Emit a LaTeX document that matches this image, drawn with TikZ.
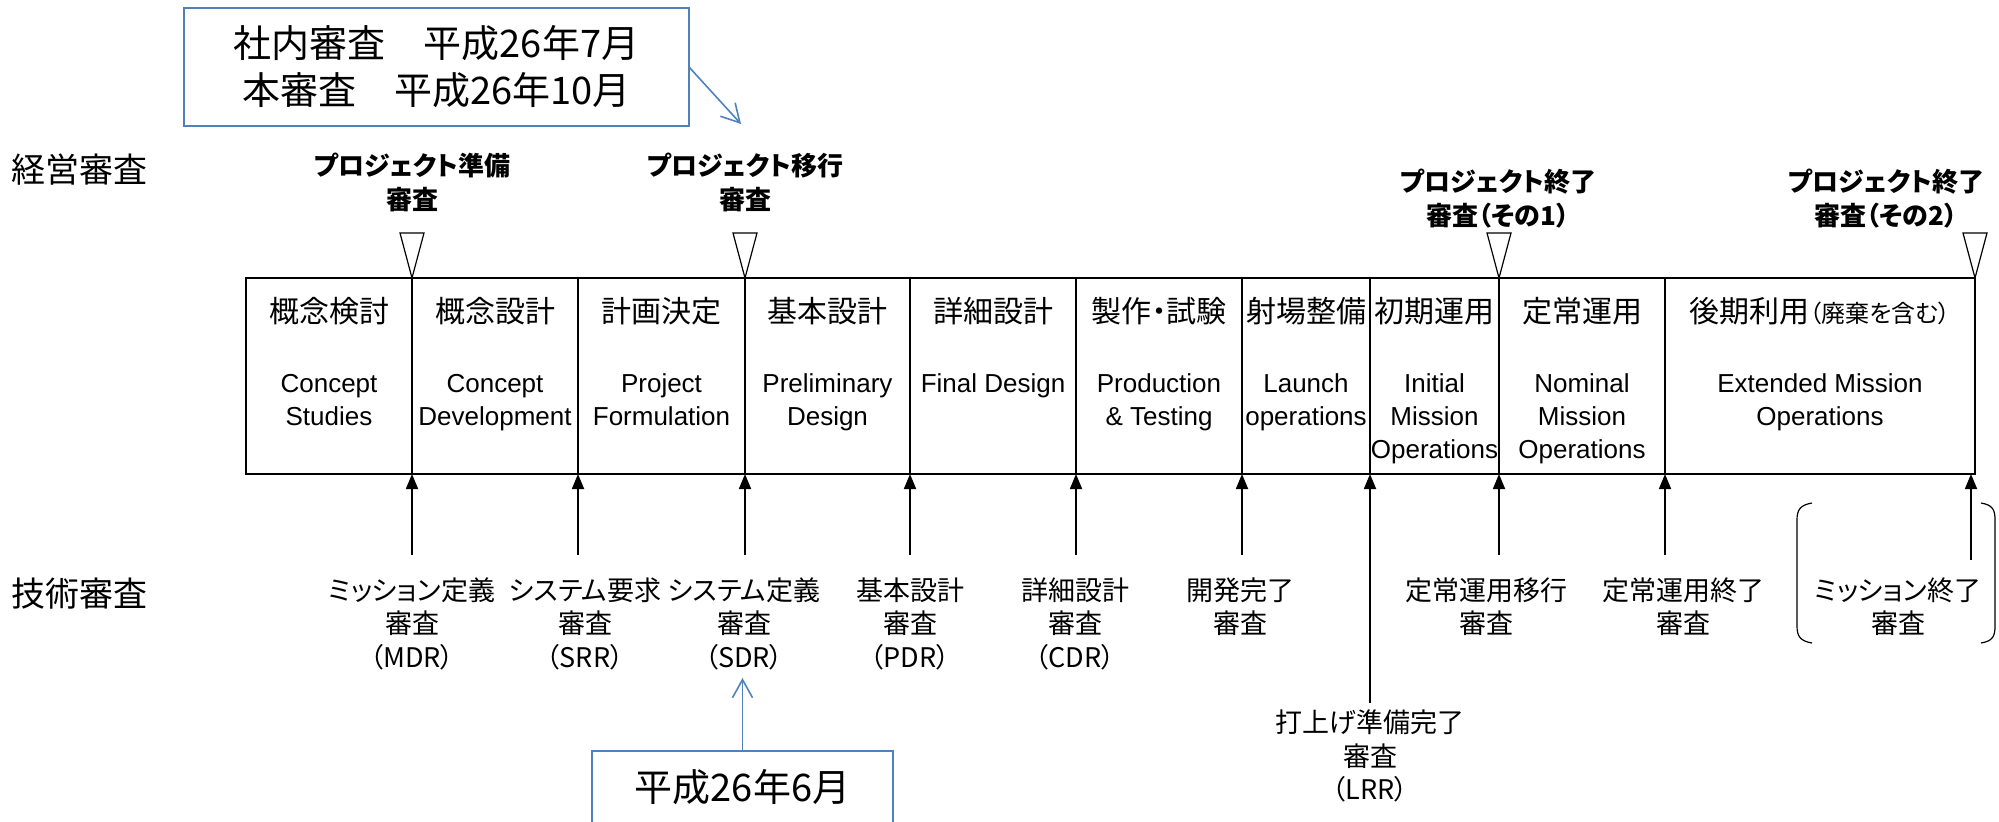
\documentclass[tikz,border=0pt]{standalone}
\usepackage{fontspec}
\setmainfont{Liberation Sans}
\newfontfamily\jp[RawFeature=+palt]{Noto Sans CJK JP}
\usetikzlibrary{arrows.meta}
\definecolor{ofblue}{RGB}{79,129,189}
\begin{document}
\begin{tikzpicture}[x=0.5pt,y=-0.5pt,
  every node/.style={inner sep=0pt, outer sep=0pt},
  phasejp/.style={font=\jp\fontsize{15}{18}\selectfont},
  phaseen/.style={font=\fontsize{13}{16.5}\selectfont, align=center, anchor=north},
  mgmt/.style={font=\jp\bfseries\fontsize{13}{17}\selectfont, align=center},
  tech/.style={font=\jp\fontsize{13.5}{16.75}\selectfont, align=center},
  side/.style={font=\jp\fontsize{17}{20}\selectfont},
  note/.style={draw=ofblue, line width=1pt, font=\jp\fontsize{19}{23.5}\selectfont, align=center},
  boxline/.style={draw=black, line width=0.75pt},
  tri/.style={draw=black, line width=0.6pt, fill=white},
  up/.style={draw=black, line width=0.9pt, -{Triangle[length=7.5pt,width=6pt]}},
  bluearr/.style={draw=ofblue, line width=0.8pt, -{Straight Barb[length=9pt,width=10pt]}},
  paren/.style={draw=black, line width=0.6pt},
]
\useasboundingbox (0,0) rectangle (1999,821);
\clip (0,0) rectangle (1999,821);

% top note
\node[note, minimum width=252.5pt, minimum height=59pt] (n1) at (436.5,67) {社内審査　平成26年7月\\本審査　平成26年10月};
\coordinate (n1tip) at (741,124);
\draw[bluearr] (n1.east) -- (n1tip);

% side labels
\node[side] (keiei) at (79,170) {経営審査};
\node[side] (gijutsu) at (79,594) {技術審査};

% management review labels
\node[mgmt] (m1) at (412,182) {プロジェクト準備\\審査};
\node[mgmt] (m2) at (745,182) {プロジェクト移行\\審査};
\node[mgmt] (m3) at (1498,199) {プロジェクト終了\\審査（その1）};
\node[mgmt] (m4) at (1886,199) {プロジェクト終了\\審査（その2）};

% phase box
\draw[boxline] (246,278) rectangle (1975,474);
\foreach \x in {412,578,745,910,1076,1242,1370,1499,1665}
  \draw[boxline] (\x,278) -- (\x,474);

% triangles
\foreach \x in {412,745,1499,1975}
  \draw[tri] (\x,278) -- ++(-12,-45) -- ++(24,0) -- cycle;

% phase labels
\node[phasejp] (j1) at (329,311) {概念検討};
\node[phasejp] (j2) at (495,311) {概念設計};
\node[phasejp] (j3) at (661.5,311) {計画決定};
\node[phasejp] (j4) at (827.5,311) {基本設計};
\node[phasejp] (j5) at (993,311) {詳細設計};
\node[phasejp] (j6) at (1159,311) {製作・試験};
\node[phasejp] (j7) at (1306,311) {射場整備};
\node[phasejp] (j8) at (1434.5,311) {初期運用};
\node[phasejp] (j9) at (1582,311) {定常運用};
\node[phasejp] (j10) at (1820,311) {後期利用{\fontsize{12}{14}\selectfont（廃棄を含む）}};

\node[phaseen] (e1) at (329,374) {Concept\\Studies};
\node[phaseen] (e2) at (495,374) {Concept\\Development};
\node[phaseen] (e3) at (661.5,374) {Project\\Formulation};
\node[phaseen] (e4) at (827.5,374) {Preliminary\\Design};
\node[phaseen] (e5) at (993,374) {Final Design};
\node[phaseen] (e6) at (1159,374) {Production\\\& Testing};
\node[phaseen] (e7) at (1306,374) {Launch\\operations};
\node[phaseen] (e8) at (1434.5,374) {Initial\\Mission\\Operations};
\node[phaseen] (e9) at (1582,374) {Nominal\\Mission\\Operations};
\node[phaseen] (e10) at (1820,374) {Extended Mission\\Operations};

% technical review arrows
\foreach \x/\y in {412/555,578/555,745/555,910/555,1076/555,1242/555,1370/703,1499/555,1665/555,1971/560}{
  \coordinate (s\x) at (\x,\y);
  \coordinate (t\x) at (\x,474);
  \draw[up] (s\x) -- (t\x);
}

% technical review labels
\node[tech] (r1) at (412,623.5) {ミッション定義\\審査\\（MDR）};
\node[tech] (r2) at (585,623.5) {システム要求\\審査\\（SRR）};
\node[tech] (r3) at (744,623.5) {システム定義\\審査\\（SDR）};
\node[tech] (r4) at (910,623.5) {基本設計\\審査\\（PDR）};
\node[tech] (r5) at (1075,623.5) {詳細設計\\審査\\（CDR）};
\node[tech] (r6) at (1240,606.5) {開発完了\\審査};
\node[tech] (r7) at (1370,756) {打上げ準備完了\\審査\\（LRR）};
\node[tech] (r8) at (1486,606.5) {定常運用移行\\審査};
\node[tech] (r9) at (1683,606.5) {定常運用終了\\審査};
\node[tech] (r10) at (1898,606.5) {ミッション終了\\審査};

% bracket
\draw[paren] (1812,503) .. controls (1800,505) and (1797,510) .. (1797,520) -- (1797,626) .. controls (1797,636) and (1800,641) .. (1812,643);
\draw[paren] (1981,503) .. controls (1993,505) and (1995,510) .. (1995,520) -- (1995,626) .. controls (1995,636) and (1993,641) .. (1981,643);

% bottom note
\node[note, minimum width=150.5pt, minimum height=44pt, anchor=north] (n2) at (742.5,751) {};
\node[font=\jp\fontsize{19}{23.5}\selectfont] (n2t) at (742.5,787) {平成26年6月};
\coordinate (n2tip) at (742.5,678);
\draw[bluearr] (n2.north) -- (n2tip);
\end{tikzpicture}
\end{document}
